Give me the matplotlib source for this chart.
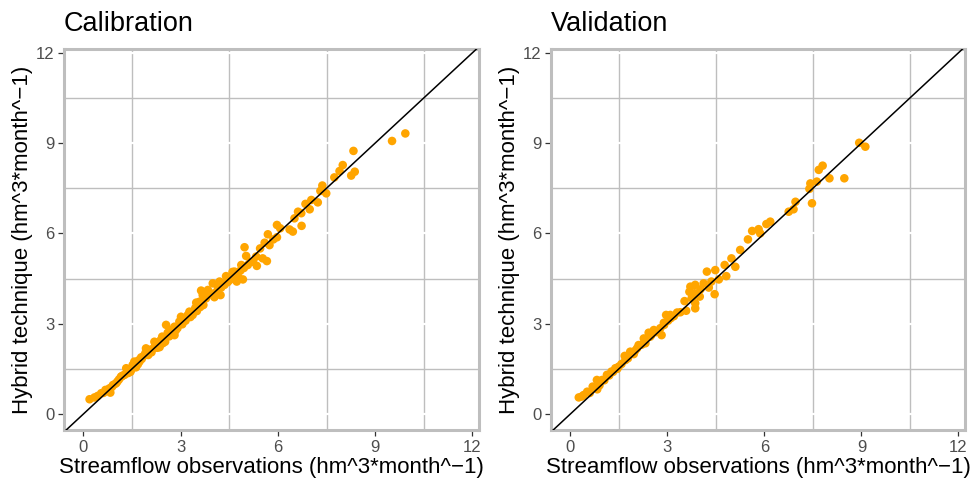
import numpy as np
import matplotlib
matplotlib.use('Agg')
import matplotlib.pyplot as plt
from matplotlib.ticker import MultipleLocator

plt.rcParams['font.family'] = ['Liberation Sans', 'DejaVu Sans']

# Calibration data (observed, hybrid)
cal_obs = [9.93, 9.52, 8.33, 8.00, 7.90, 7.74, 8.26, 8.37, 7.37, 7.31, 7.49, 7.23, 7.03, 6.85,
           6.98, 6.72, 6.62, 6.51, 6.73, 6.46, 6.36, 5.97, 6.07, 5.69, 5.97, 5.86, 5.74, 5.59,
           5.45, 4.97, 5.02, 5.33, 5.53, 5.66, 5.35, 5.23, 5.07, 4.87, 4.84, 4.66, 4.77, 4.92,
           4.73, 4.51, 4.40, 4.35, 4.20, 4.15, 4.23, 4.04, 3.99, 3.84, 3.63, 3.68, 3.78, 3.58,
           3.56, 3.48, 3.37, 3.27, 3.22, 3.12, 3.01, 2.96, 2.81, 2.55, 2.70, 2.81, 2.60, 2.43,
           2.45, 2.33, 2.19, 2.16, 2.04, 1.93, 1.91, 1.78, 1.73, 1.57, 1.52, 1.47, 1.32, 1.27,
           1.16, 1.01, 0.91, 0.80, 0.83, 0.68, 0.55, 0.44, 0.34, 0.19,
           4.60, 4.45, 4.30, 4.10, 3.90, 3.70, 3.45, 3.30, 3.15, 3.05, 2.90, 2.75, 2.65, 2.50,
           2.38, 2.28, 2.22, 2.10, 1.98, 1.85, 1.80, 1.68, 1.62, 1.42, 1.38, 1.22, 1.10, 1.05,
           0.95, 0.72, 0.62, 4.95, 5.15, 4.60, 4.25, 3.50, 2.00, 1.70, 1.35, 0.88,
           2.35, 2.52, 2.05, 1.45, 1.18, 3.60, 3.95, 4.55, 2.85, 1.60]
cal_hyb = [9.32, 9.07, 8.74, 8.27, 8.07, 7.86, 7.92, 8.05, 7.59, 7.41, 7.33, 7.03, 7.11, 6.98,
           6.80, 6.67, 6.72, 6.50, 6.25, 6.06, 6.13, 6.28, 6.17, 5.97, 5.87, 5.80, 5.61, 5.69,
           5.50, 5.54, 5.25, 5.23, 5.17, 5.08, 4.92, 5.06, 4.95, 4.95, 4.76, 4.73, 4.56, 4.47,
           4.40, 4.45, 4.58, 4.29, 4.40, 4.21, 3.95, 3.88, 4.34, 4.12, 4.10, 3.95, 3.84, 3.73,
           3.57, 3.70, 3.29, 3.40, 3.29, 3.18, 3.23, 3.07, 2.90, 2.96, 2.79, 2.62, 2.70, 2.57,
           2.35, 2.24, 2.40, 2.18, 2.13, 2.18, 2.02, 1.88, 1.74, 1.74, 1.63, 1.46, 1.52, 1.30,
           1.24, 1.02, 0.96, 0.85, 0.71, 0.80, 0.69, 0.60, 0.55, 0.49,
           4.52, 4.38, 4.35, 4.05, 3.98, 3.62, 3.52, 3.22, 3.10, 2.98, 2.85, 2.80, 2.58, 2.46,
           2.45, 2.20, 2.30, 2.05, 2.08, 1.92, 1.83, 1.65, 1.55, 1.48, 1.36, 1.28, 1.15, 1.08,
           0.98, 0.78, 0.70, 4.85, 5.05, 4.72, 4.20, 3.42, 1.96, 1.78, 1.40, 0.90,
           2.22, 2.40, 2.12, 1.40, 1.25, 3.55, 4.00, 4.50, 2.78, 1.58]

# Validation data (observed, hybrid)
val_obs = [8.93, 9.12, 8.47, 8.01, 7.80, 7.68, 7.62, 7.42, 7.39, 7.47, 6.96, 6.90, 6.75, 6.18,
           6.06, 5.82, 5.62, 5.87, 5.49, 5.25, 4.98, 5.10, 4.77, 4.82, 4.48, 4.22, 4.59, 4.46,
           4.36, 4.12, 4.02, 3.86, 3.71, 3.68, 3.84, 4.00, 3.86, 3.86, 3.53, 3.58, 3.30, 3.09,
           2.96, 3.02, 2.89, 2.82, 2.78, 2.58, 2.42, 2.47, 2.27, 2.32, 2.11, 2.06, 1.85, 1.96,
           1.68, 1.70, 1.49, 1.39, 1.27, 1.13, 0.98, 0.82, 0.69, 0.83, 0.52, 0.41, 0.26,
           3.20, 3.40, 2.65, 2.20, 1.78, 1.58, 1.32, 1.20, 1.05, 0.90, 0.60, 3.75, 4.28, 2.90,
           2.50, 2.00, 1.45, 0.35, 3.10]
val_hyb = [9.01, 8.88, 7.83, 7.83, 8.25, 8.11, 7.72, 7.66, 7.48, 7.00, 7.05, 6.80, 6.72, 6.39,
           6.31, 6.14, 6.08, 6.00, 5.80, 5.45, 5.17, 4.89, 4.95, 4.58, 4.78, 4.73, 4.47, 3.98,
           4.40, 4.34, 4.14, 4.29, 4.23, 4.06, 4.01, 3.90, 3.68, 3.51, 3.75, 3.43, 3.37, 3.29,
           3.29, 3.10, 3.03, 2.62, 2.85, 2.79, 2.70, 2.57, 2.51, 2.35, 2.29, 2.18, 2.07, 1.99,
           1.93, 1.79, 1.57, 1.52, 1.41, 1.30, 1.13, 1.13, 0.91, 0.82, 0.74, 0.63, 0.55,
           3.25, 3.38, 2.72, 2.30, 1.85, 1.66, 1.40, 1.28, 1.12, 0.95, 0.70, 3.85, 4.20, 2.96,
           2.62, 2.10, 1.50, 0.58, 3.18]

titles = ['Calibration', 'Validation']
datasets = [(cal_obs, cal_hyb), (val_obs, val_hyb)]

fig = plt.figure(figsize=(9.75, 4.82), dpi=100)
positions = [[0.0656, 0.108, 0.4256, 0.790], [0.5651, 0.108, 0.4246, 0.790]]

for pos, title, (obs, hyb) in zip(positions, titles, datasets):
    ax = fig.add_axes(pos)
    ax.set_xlim(-0.6, 12.2)
    ax.set_ylim(-0.53, 12.12)
    ax.xaxis.set_major_locator(MultipleLocator(3))
    ax.yaxis.set_major_locator(MultipleLocator(3))
    ax.xaxis.set_minor_locator(MultipleLocator(1.5))
    ax.yaxis.set_minor_locator(MultipleLocator(1.5))
    ax.grid(True, which='minor', color='#BEBEBE', lw=1.0, zorder=0)
    ax.grid(True, which='major', color='white', lw=1.6, zorder=0.5)
    ax.set_axisbelow(True)
    ax.tick_params(which='minor', length=0)
    ax.tick_params(which='major', length=4, width=0.9, color='#333333',
                   labelcolor='#4D4D4D', labelsize=12, pad=3)
    for s in ax.spines.values():
        s.set_color('#BEBEBE')
        s.set_linewidth(2.2)
    ax.scatter(obs, hyb, s=38, color='#FFA500', edgecolors='none', zorder=2)
    ax.plot([-1, 13], [-1, 13], color='black', lw=1.1, zorder=3)
    ax.set_xlabel('Streamflow observations (hm^3*month^\u22121)', fontsize=16, labelpad=2)
    ax.set_ylabel('Hybrid technique (hm^3*month^\u22121)', fontsize=16, labelpad=2)
    ax.set_title(title, loc='left', fontsize=19.5, pad=13)

fig.savefig('out.png', dpi=100)
